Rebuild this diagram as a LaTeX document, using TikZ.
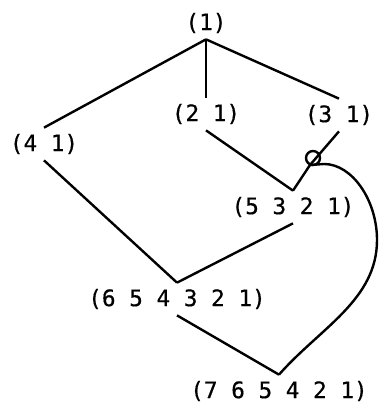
\documentclass[tikz,border=0pt]{standalone}
\usepackage{fontspec}
\setmonofont[FakeBold=0.6]{DejaVu Sans Mono}

\begin{document}
\begin{tikzpicture}[x=0.75pt, y=-0.75pt,
    lbl/.style={font=\ttfamily\fontsize{17}{17}\selectfont, inner sep=4.5pt},
    link/.style={line width=1.8pt, line join=round}]

\useasboundingbox (0,0) rectangle (378,410);

% --- Etichette ---
\node[lbl] (n1)      at (206,23)  {(1)};
\node[lbl] (n21)     at (206,114) {(2 1)};
\node[lbl] (n31)     at (339,115) {(3 1)};
\node[lbl] (n41)     at (44,144)  {(4 1)};
\node[lbl] (n5321)   at (293,207) {(5 3 2 1)};
\node[lbl] (n654321) at (177,299) {(6 5 4 3 2 1)};
\node[lbl] (n765421) at (279,391) {(7 6 5 4 2 1)};

% --- Punto del nodo ---
\coordinate (lp) at (310,165);

% --- Collegamenti ---
\foreach \a/\b in {n1.south/n41.north, n1.south/n21.north, n1.south/n31.north,
                   n21.south/n5321.north, n41.south/n654321.north,
                   n5321.south/n654321.north, n654321.south/n765421.north}{
    \draw[link] (\a) -- (\b);
}

% --- Nodo e curva ---
\draw[link] (n31.south) -- (lp) -- (n5321.north);
\draw[link] (313,158) circle (7);
\draw[link] (lp) -- (324,164) .. controls (352,164) and (377,200) .. (377,240)
    .. controls (377,300) and (320,328) .. (n765421.north);

\end{tikzpicture}
\end{document}
